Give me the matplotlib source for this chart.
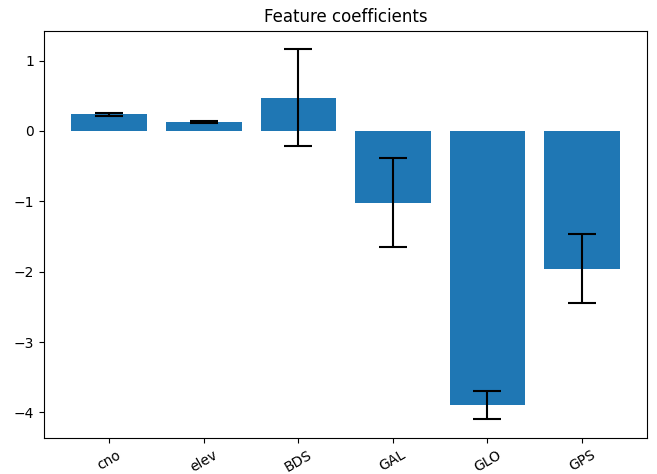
import matplotlib
matplotlib.use('Agg')
import matplotlib.pyplot as plt

features = ['cno', 'elev', 'BDS', 'GAL', 'GLO', 'GPS']
coefs = [0.235, 0.125, 0.47, -1.02, -3.9, -1.955]
errors = [0.025, 0.01, 0.69, 0.635, 0.2, 0.495]

fig = plt.figure(figsize=(6.57, 4.74), dpi=100)
ax = fig.add_axes([0.067, 0.076, 0.918, 0.859])
x = range(len(features))
ax.bar(x, coefs, yerr=errors, capsize=10,
       error_kw={'elinewidth': 1.5, 'capthick': 1.5, 'ecolor': 'black'})
ax.set_xticks(list(x))
ax.set_xticklabels(features, rotation=30)
ax.set_title('Feature coefficients')
fig.savefig('out.png', dpi=100)
